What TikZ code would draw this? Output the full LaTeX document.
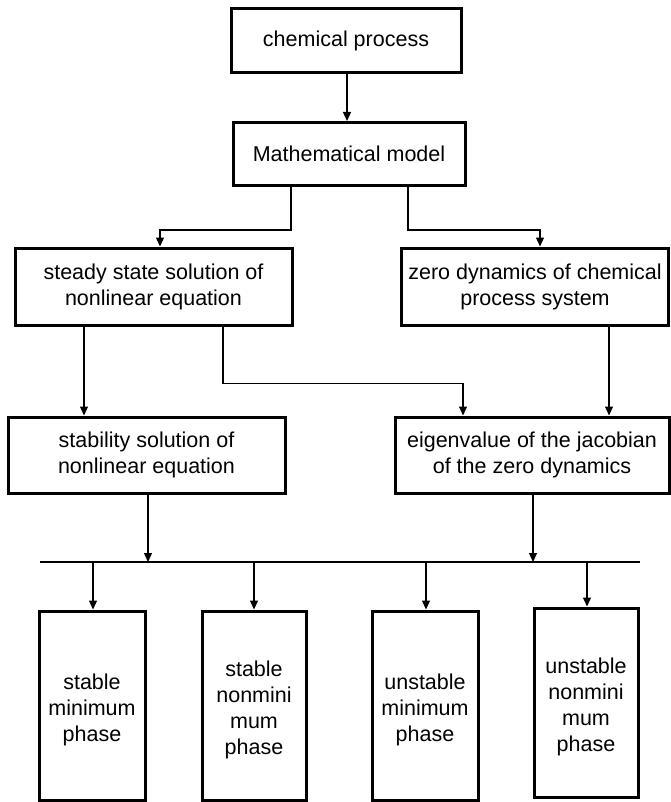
\documentclass[tikz,border=0pt]{standalone}
\usepackage{fontspec}
\setmainfont{Liberation Sans}
\usetikzlibrary{arrows.meta}
\begin{document}
\begin{tikzpicture}[x=1pt,y=-1pt,
  box/.style={draw, line width=3pt, align=center, inner sep=0pt,
    font=\fontsize{21.5}{26}\selectfont},
  txt/.style={align=center, inner sep=0pt, font=\fontsize{21.5}{26}\selectfont},
  arr/.style={line width=1.3pt, -{Triangle[length=9pt,width=8pt]}},
  conn/.style={line width=1.3pt}]
\useasboundingbox (0,0) rectangle (671,802);
\node[box, minimum width=230pt, minimum height=64pt] (cp) at (346,41) {chemical process};
\node[box, minimum width=232pt, minimum height=63pt] (mm) at (349,154) {Mathematical model};
\node[box, minimum width=277pt, minimum height=77pt] (ss) at (153.5,286.5) {steady state solution of\\nonlinear equation};
\node[box, minimum width=267pt, minimum height=77pt] (zd) at (535,286.5) {zero dynamics of chemical\\process system};
\node[box, minimum width=277pt, minimum height=76pt] (st) at (146.5,455) {stability solution of\\nonlinear equation};
\node[box, minimum width=274pt, minimum height=76pt] (ev) at (532,455) {eigenvalue of the jacobian\\of the zero dynamics};
\node[box, minimum width=106pt, minimum height=189pt] (b1) at (92,705.5) {};
\node[box, minimum width=104pt, minimum height=189pt] (b2) at (254,705.5) {};
\node[box, minimum width=106pt, minimum height=189pt] (b3) at (425,705.5) {};
\node[box, minimum width=104pt, minimum height=189pt] (b4) at (586,702.5) {};
\node[txt] (t1) at ([yshift=-4pt]b1.center) {stable\\minimum\\phase};
\node[txt] (t2) at ([yshift=-4pt]b2.center) {stable\\nonmini\\mum\\phase};
\node[txt] (t3) at ([yshift=-4pt]b3.center) {unstable\\minimum\\phase};
\node[txt] (t4) at ([yshift=-4pt]b4.center) {unstable\\nonmini\\mum\\phase};
\coordinate (busL) at (40,562);
\coordinate (busR) at (640,562);
% connectors
\draw[arr] ([xshift=1pt]cp.south) -- ([xshift=-2pt]mm.north);
\draw[arr] ([xshift=-58pt]mm.south) -- ++(0,43) -| ([xshift=6.5pt]ss.north);
\draw[arr] ([xshift=59pt]mm.south) -- ++(0,43) -| ([xshift=5pt]zd.north);
\draw[arr] ([xshift=-69.5pt]ss.south) -- ([xshift=-62.5pt]st.north);
\draw[arr] ([xshift=69.5pt]ss.south) -- ++(0,57) -| ([xshift=-69pt]ev.north);
\draw[arr] ([xshift=74pt]zd.south) -- ([xshift=77pt]ev.north);
\draw[conn] (busL) -- (busR);
\draw[arr] ([xshift=1.5pt]st.south) -- ([xshift=1.5pt]st.south |- busL);
\draw[arr] ([xshift=1pt]ev.south) -- ([xshift=1pt]ev.south |- busL);
\draw[arr] ([xshift=1pt]b1.north |- busL) -- ([xshift=1pt]b1.north);
\draw[arr] (b2.north |- busL) -- (b2.north);
\draw[arr] ([xshift=1pt]b3.north |- busL) -- ([xshift=1pt]b3.north);
\draw[arr] ([xshift=1pt]b4.north |- busL) -- ([xshift=1pt]b4.north);
\end{tikzpicture}
\end{document}
